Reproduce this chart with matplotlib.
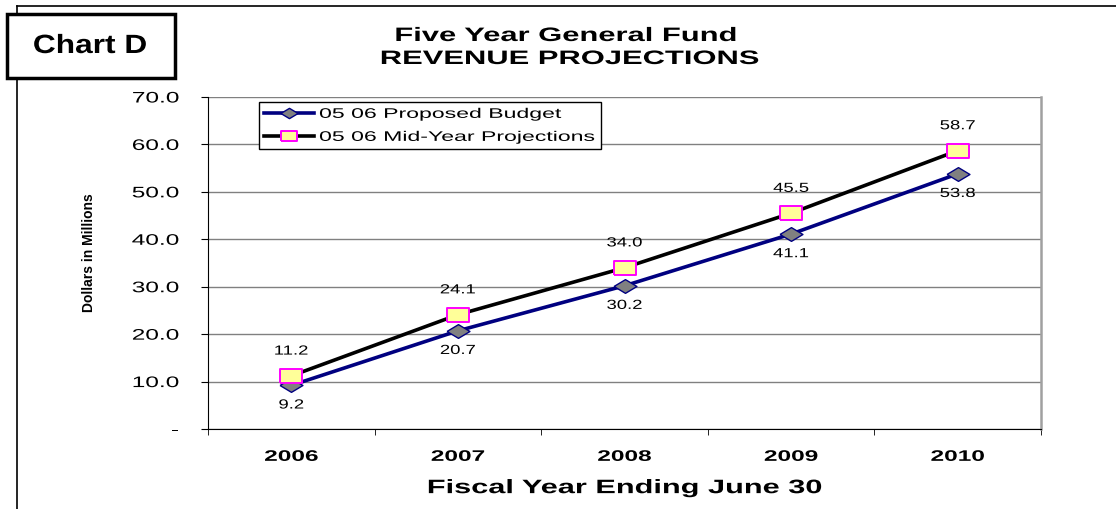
import matplotlib.pyplot as plt
import matplotlib.patches as patches
import matplotlib.patheffects as pe
from matplotlib.transforms import Affine2D
import numpy as np

plt.rcParams['font.family'] = ['Liberation Sans', 'DejaVu Sans']

years = ['2006', '2007', '2008', '2009', '2010']
proposed = [9.2, 20.7, 30.2, 41.1, 53.8]
midyear = [11.2, 24.1, 34.0, 45.5, 58.7]


class Stretch(pe.AbstractPathEffect):
    # widen text glyphs along the text direction (the source chart is squashed wide)
    def __init__(self, sx=1.0, anchor='center'):
        super().__init__()
        self.sx = sx
        self.anchor = anchor

    def draw_path(self, renderer, gc, tpath, affine, rgbFace=None):
        ext = tpath.get_extents()
        if self.anchor == 'right':
            cx = ext.x1
        elif self.anchor == 'left':
            cx = ext.x0
        else:
            cx = (ext.x0 + ext.x1) / 2
        t = Affine2D().translate(-cx, 0).scale(self.sx, 1).translate(cx, 0) + affine
        renderer.draw_path(gc, tpath, t, rgbFace)


# flattened marker shapes
diamond = [(-1, 0), (0, -0.6), (1, 0), (0, 0.6), (-1, 0)]
rect = [(-1, -0.66), (1, -0.66), (1, 0.66), (-1, 0.66), (-1, -0.66)]

fig = plt.figure(figsize=(11.16, 5.1), dpi=100)
ax = fig.add_axes([208 / 1116, 1 - 430 / 510, 833 / 1116, 332 / 510])

x = np.arange(len(years))
ax.plot(x, proposed, color='#000080', lw=2.6, marker=diamond, ms=16.5,
        mfc='#808080', mec='#000080', mew=1, label='05 06 Proposed Budget', zorder=3)
ax.plot(x, midyear, color='black', lw=2.6, marker=rect, ms=15.5,
        mfc='#ffff99', mec='#ff00ff', mew=1.4, label='05 06 Mid-Year Projections', zorder=4)

for i in range(len(years)):
    t1 = ax.annotate('%.1f' % proposed[i], (x[i], proposed[i]), xytext=(0, -14.5),
                     textcoords='offset points', ha='center', va='center', fontsize=9.5)
    t2 = ax.annotate('%.1f' % midyear[i], (x[i], midyear[i]), xytext=(0, 17.5),
                     textcoords='offset points', ha='center', va='center', fontsize=9.5)
    t1.set_path_effects([Stretch(1.4)])
    t2.set_path_effects([Stretch(1.4)])

ax.set_xlim(-0.5, 4.5)
ax.set_ylim(0, 70)
ax.set_yticks(np.arange(0, 71, 10))
ylabs = ax.set_yticklabels(['-'] + ['%.1f' % v for v in np.arange(10, 71, 10)], fontsize=11)
for t in ylabs:
    t.set_path_effects([Stretch(1.6, 'right')])
ax.set_xticks(x)
xlabs = ax.set_xticklabels(years, fontsize=11, fontweight='bold')
for t in xlabs:
    t.set_path_effects([Stretch(1.6)])
ax.set_xticks(np.arange(-0.5, 4.6, 1), minor=True)
ax.tick_params(axis='x', which='major', length=0, pad=15)
ax.tick_params(axis='x', which='minor', length=4.5, direction='out')
ax.tick_params(axis='y', length=5, direction='out', pad=16)
ax.grid(axis='y', color='#808080', lw=1)
ax.set_axisbelow(True)
ax.spines['top'].set_visible(False)
ax.spines['right'].set_color('#a0a0a0')
ax.spines['right'].set_linewidth(1.8)

ax.set_xlabel('Fiscal Year Ending June 30', fontsize=14, fontweight='bold')
ax.xaxis.set_label_coords(0.5006, -0.154)
ax.xaxis.label.set_path_effects([Stretch(1.58)])
ax.set_ylabel('Dollars in Millions', fontsize=10, fontweight='bold')
ax.yaxis.set_label_coords(-0.1345, 0.533)

leg = ax.legend(loc='upper left', bbox_to_anchor=(0.0612, 0.846, 0.41, 0.139), mode='expand',
                fontsize=10, fancybox=False, framealpha=1, edgecolor='black',
                borderpad=0.35, labelspacing=0.65, handlelength=3.6, handletextpad=0.4,
                borderaxespad=0, markerscale=0.75)
leg.get_frame().set_linewidth(1)
for t in leg.get_texts():
    t.set_path_effects([Stretch(1.66, 'left')])

title1 = fig.text(566 / 1116, 1 - 42 / 510, 'Five Year General Fund', ha='center',
                  va='baseline', fontsize=14, fontweight='bold')
title2 = fig.text(570 / 1116, 1 - 65 / 510, 'REVENUE PROJECTIONS', ha='center',
                  va='baseline', fontsize=14, fontweight='bold')
title1.set_path_effects([Stretch(1.59)])
title2.set_path_effects([Stretch(1.59)])

# page border lines and Chart D box
fig.add_artist(plt.Line2D([17 / 1116, 1], [1 - 7 / 510] * 2, color='black', lw=1.2))
fig.add_artist(plt.Line2D([17 / 1116] * 2, [0, 1 - 7 / 510], color='black', lw=1.2))
box = patches.Rectangle((7 / 1116, 1 - 79 / 510), 168 / 1116, 64 / 510, transform=fig.transFigure,
                        facecolor='white', edgecolor='black', lw=2.5, zorder=5)
fig.add_artist(box)
chart = fig.text(90 / 1116, 1 - 47 / 510, 'Chart D', ha='center', va='center', fontsize=19,
                 fontweight='bold', zorder=6)
chart.set_path_effects([Stretch(1.2)])

fig.savefig('out.png', dpi=100)
